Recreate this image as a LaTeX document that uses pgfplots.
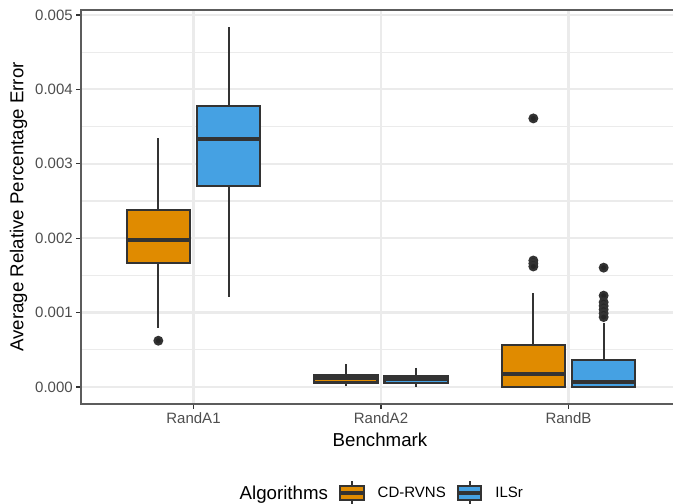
\documentclass[border=0pt]{standalone}
\usepackage{fontspec}
\setmainfont{Liberation Sans}
\usepackage{pgfplots}
\pgfplotsset{compat=1.18}
\usepgfplotslibrary{statistics}
\definecolor{cdorange}{HTML}{E08B00}
\definecolor{ilsblue}{HTML}{45A1E3}
\definecolor{grey20}{HTML}{333333}
\definecolor{grey30}{HTML}{4D4D4D}
\definecolor{grey92}{HTML}{EBEBEB}
\definecolor{outlier}{HTML}{262626}
\pgfplotsset{
  ggbox/.style={forget plot, boxplot/draw direction=y, draw=grey20, line width=2.2pt, solid,
    mark=*, mark size=3.8pt, mark options={fill=outlier, draw=none},
    boxplot/every median/.style={line width=4.2pt},
    boxplot/whisker extend=0, boxplot/box extend=0.3375},
  boxkey/.style={legend image code/.code={
    \draw[fill=#1, draw=grey20, line width=2.2pt] (0pt,-7.3pt) rectangle (23.5pt,7.3pt);
    \draw[grey20, line width=2.2pt] (11.75pt,7.3pt)--(11.75pt,11.7pt) (11.75pt,-7.3pt)--(11.75pt,-11.7pt);
    \draw[grey20, line width=4.2pt] (0pt,0pt)--(23.5pt,0pt);
  }}
}
\begin{document}
\begin{tikzpicture}[x=1pt,y=1pt]
\useasboundingbox (0,0) rectangle (673,504);
\begin{axis}[at={(81pt,100pt)}, anchor=south west, width=600pt, height=394pt, scale only axis,
  xmin=0.4, xmax=3.6, ymin=-0.0002285, ymax=0.0050672,
  xtick={1,2,3}, xticklabels={RandA1,RandA2,RandB},
  ytick={0,0.001,0.002,0.003,0.004,0.005},
  minor ytick={0.0005,0.0015,0.0025,0.0035,0.0045},
  scaled y ticks=false,
  yticklabel style={/pgf/number format/fixed, /pgf/number format/fixed zerofill, /pgf/number format/precision=3},
  /pgf/number format/assume math mode=true,
  tick label style={font=\fontsize{15}{18}\selectfont, text=grey30},
  label style={font=\fontsize{18.7}{22}\selectfont},
  xlabel=Benchmark, ylabel=Average Relative Percentage Error,
  xlabel style={at={(axis description cs:0.4983,-0.1079)}, anchor=base},
  ylabel style={at={(axis description cs:-0.10417,0.5)}, anchor=center},
  xmajorgrids, ymajorgrids, yminorgrids,
  major grid style={grey92, line width=2.2pt},
  minor grid style={grey92, line width=1.1pt},
  axis line style={grey20!80, line width=1.1pt},
  tick align=outside, tick pos=left,
  major tick length=4.7pt, minor tick length=0pt,
  major tick style={grey20, line width=1.3pt},
  legend columns=3,
  legend style={at={(0.4922,-0.2259)}, anchor=center, draw=none, fill=none,
    font=\fontsize{15}{18}\selectfont,
    /tikz/every even column/.append style={column sep=8pt},
    /tikz/every odd column/.append style={column sep=10pt}},
]
\addlegendimage{empty legend}
\addlegendentry{\fontsize{18.7}{22}\selectfont Algorithms}
\addlegendimage{boxkey=cdorange}
\addlegendentry{CD-RVNS}
\addlegendimage{boxkey=ilsblue}
\addlegendentry{ILSr}

% RandA1
\addplot[ggbox, fill=cdorange, boxplot prepared={draw position=0.8125,
  lower whisker=0.000797, lower quartile=0.001671, median=0.001976,
  upper quartile=0.002379, upper whisker=0.003343}]
  table[row sep=\\, y index=0] {data\\ 0.000622\\};
\addplot[ggbox, fill=ilsblue, boxplot prepared={draw position=1.1875,
  lower whisker=0.001214, lower quartile=0.002702, median=0.003333,
  upper quartile=0.003777, upper whisker=0.004835}]
  coordinates {};
% RandA2
\addplot[ggbox, fill=cdorange, boxplot prepared={draw position=1.8125,
  lower whisker=0.00001, lower quartile=0.00006, median=0.000125,
  upper quartile=0.00016, upper whisker=0.00031}]
  coordinates {};
\addplot[ggbox, fill=ilsblue, boxplot prepared={draw position=2.1875,
  lower whisker=0.000004, lower quartile=0.00005, median=0.00011,
  upper quartile=0.000145, upper whisker=0.00026}]
  coordinates {};
% RandB
\addplot[ggbox, fill=cdorange, boxplot prepared={draw position=2.8125,
  lower whisker=0.0, lower quartile=0.000004, median=0.000171,
  upper quartile=0.00056, upper whisker=0.001259}]
  table[row sep=\\, y index=0] {data\\ 0.00361\\ 0.00170\\ 0.00166\\ 0.00162\\};
\addplot[ggbox, fill=ilsblue, boxplot prepared={draw position=3.1875,
  lower whisker=0.0, lower quartile=0.000003, median=0.000072,
  upper quartile=0.000363, upper whisker=0.000856}]
  table[row sep=\\, y index=0] {data\\ 0.001604\\ 0.001228\\ 0.00114\\ 0.00109\\ 0.00104\\ 0.00099\\ 0.00094\\};
\end{axis}
\end{tikzpicture}
\end{document}
